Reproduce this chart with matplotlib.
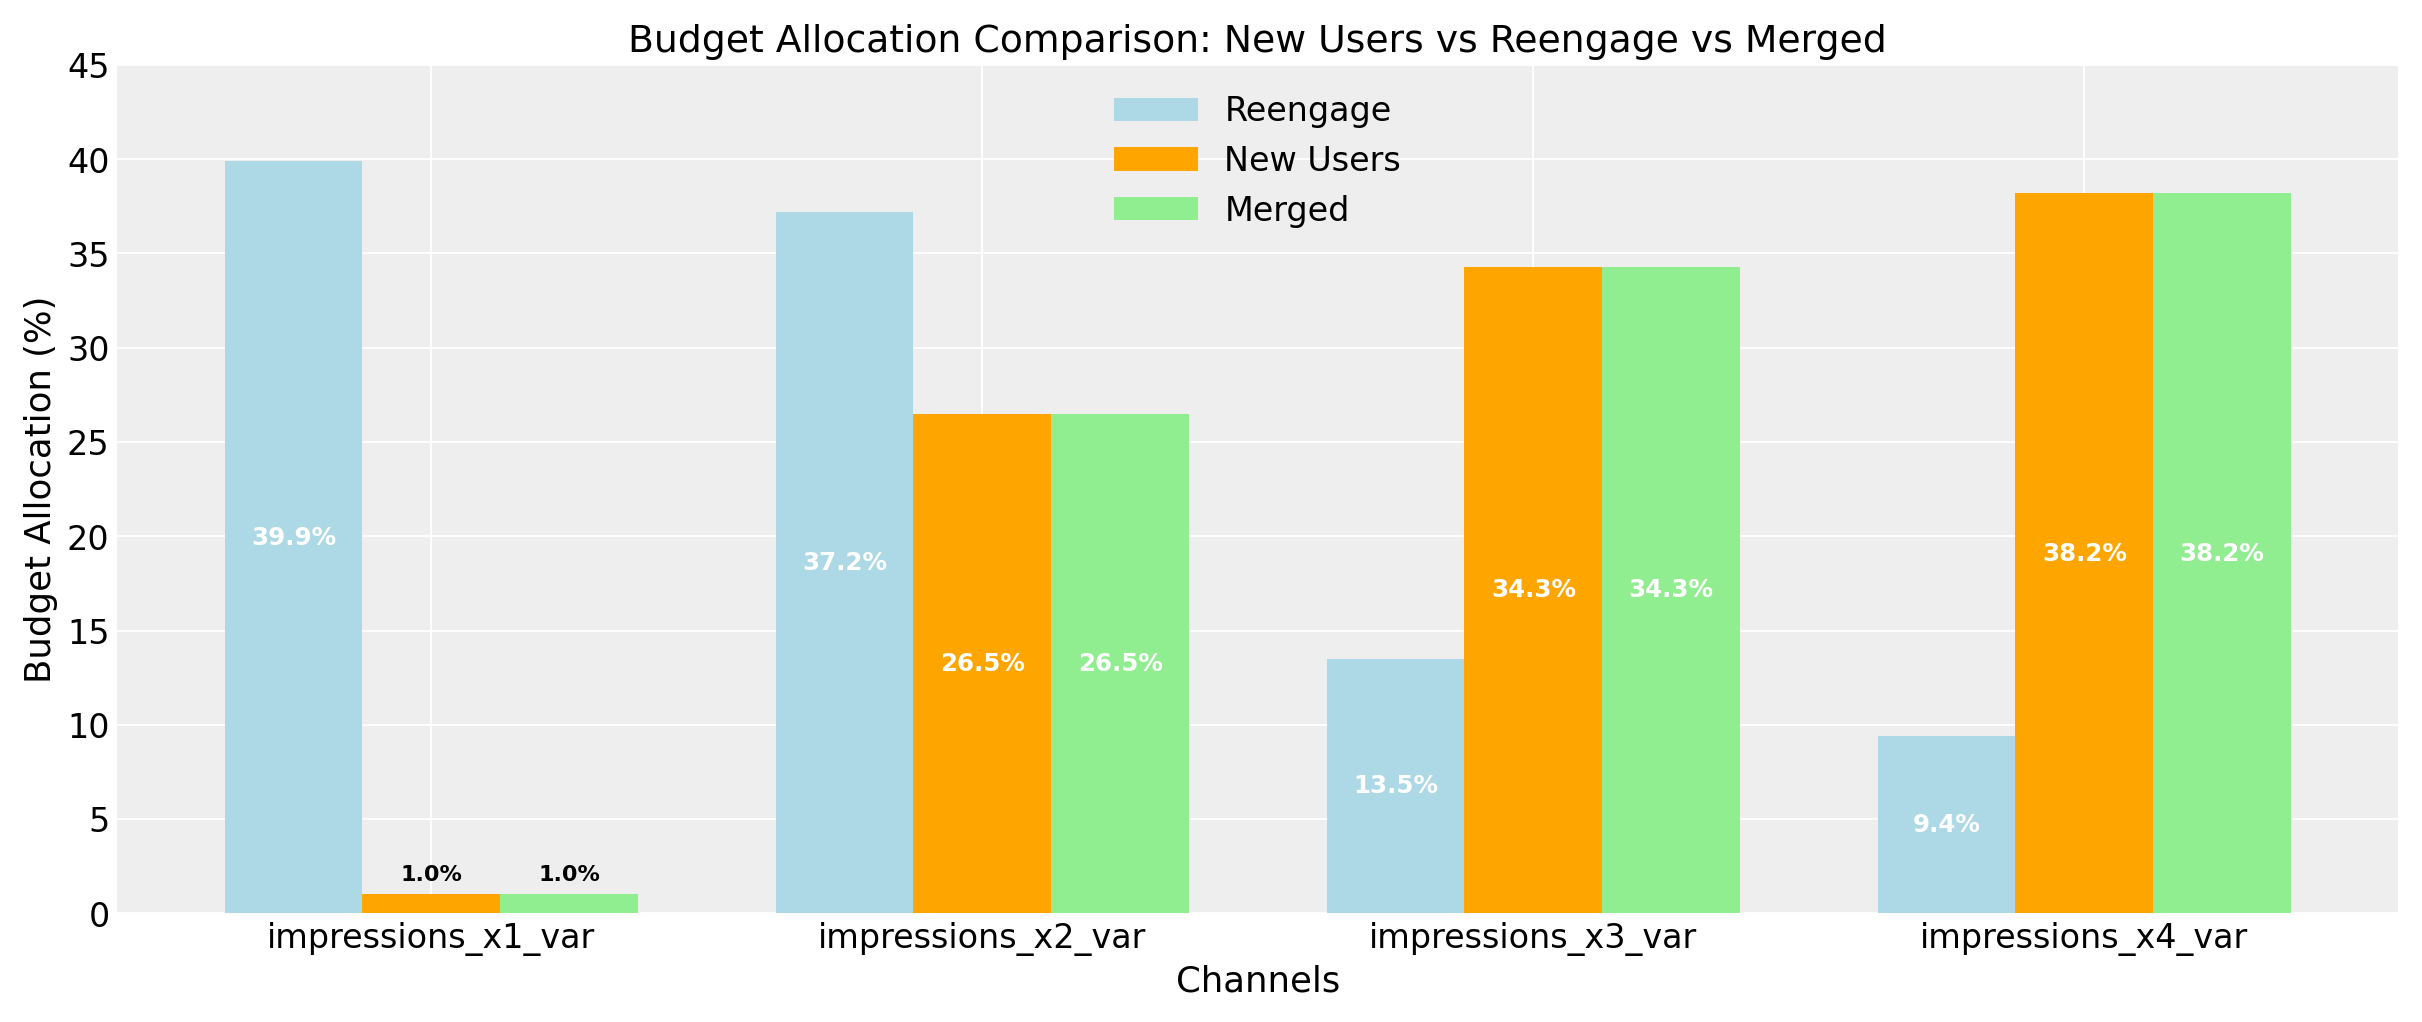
import numpy as np
import matplotlib.pyplot as plt

channels = ['impressions_x1_var', 'impressions_x2_var', 'impressions_x3_var', 'impressions_x4_var']
reengage = [39.9, 37.2, 13.5, 9.4]
new_users = [1.0, 26.5, 34.3, 38.2]
merged = [1.0, 26.5, 34.3, 38.2]

series = [('Reengage', reengage, 'lightblue'),
          ('New Users', new_users, 'orange'),
          ('Merged', merged, 'lightgreen')]

fig, ax = plt.subplots(figsize=(15.14, 6.39), dpi=160)
fig.patch.set_facecolor('white')
ax.set_facecolor('#eeeeee')
for s in ax.spines.values():
    s.set_visible(False)
ax.grid(True, color='white', linewidth=0.8)
ax.set_axisbelow(True)

x = np.arange(len(channels))
w = 0.25
for i, (name, vals, col) in enumerate(series):
    bars = ax.bar(x + (i - 1) * w, vals, w, label=name, color=col)
    for b, v in zip(bars, vals):
        cx = b.get_x() + b.get_width() / 2
        if v < 5:
            ax.text(cx, v + 0.5, f'{v:.1f}%', ha='center', va='bottom',
                    fontsize=10, fontweight='bold', color='black')
        else:
            ax.text(cx, v / 2, f'{v:.1f}%', ha='center', va='center',
                    fontsize=11, fontweight='bold', color='white')

ax.set_xticks(x)
ax.set_xticklabels(channels, fontsize=15)
ax.tick_params(axis='y', labelsize=15)
ax.tick_params(length=0)
ax.set_ylim(0, 45)
ax.set_yticks(range(0, 46, 5))
ax.set_xlim(-0.57, 3.57)
ax.set_xlabel('Channels', fontsize=16)
ax.set_ylabel('Budget Allocation (%)', fontsize=16)
ax.set_title('Budget Allocation Comparison: New Users vs Reengage vs Merged', fontsize=17)
ax.legend(loc='upper center', fontsize=15, frameon=False, handlelength=2.5)

plt.tight_layout()
plt.savefig('out.png', dpi=160)
